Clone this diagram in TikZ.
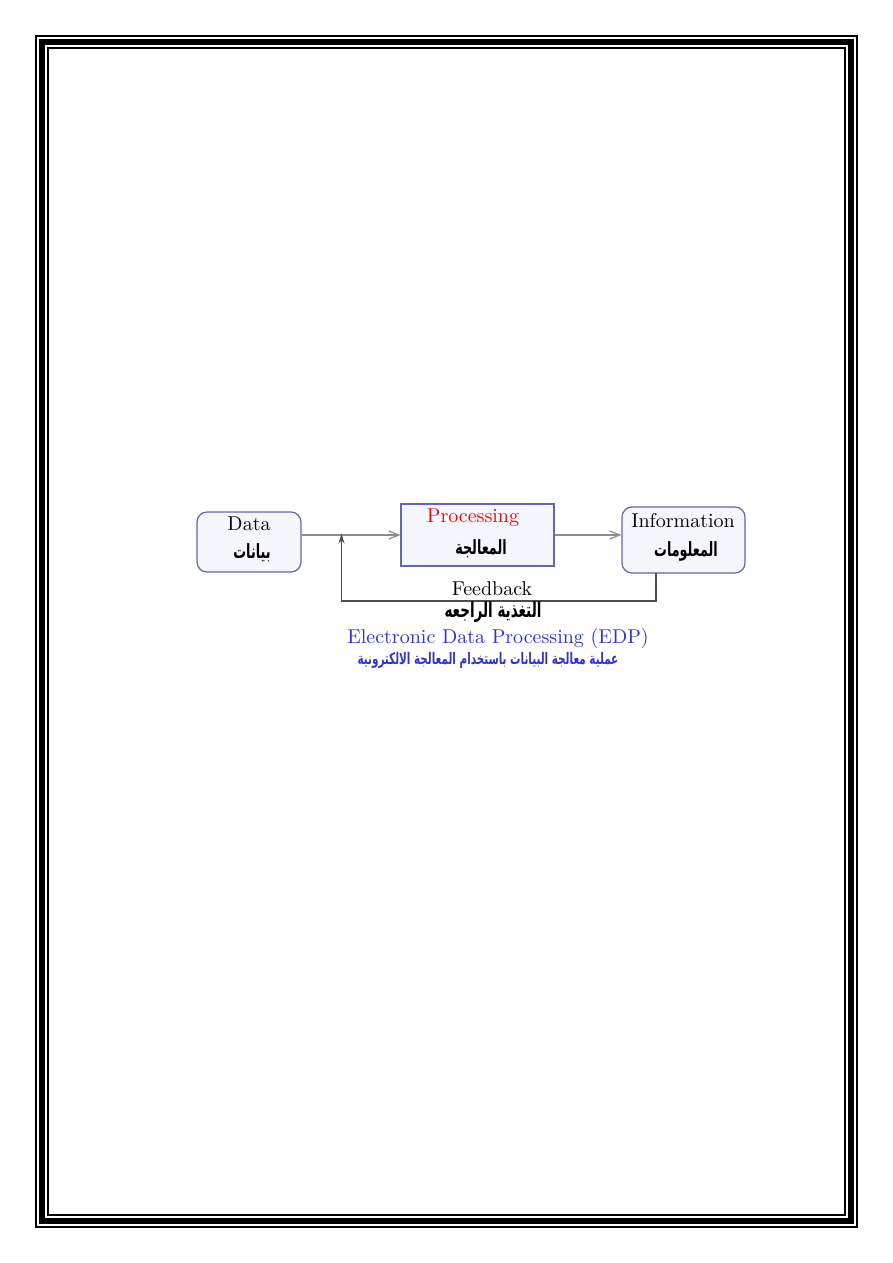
\documentclass[tikz,border=0pt]{standalone}
\usepackage{fontspec}
\newfontfamily\arabicfont[Script=Arabic,FakeStretch=0.65]{DejaVu Sans}
\TeXXeTstate=1
\usetikzlibrary{arrows.meta}
\definecolor{boxline}{RGB}{100,100,180}
\definecolor{boxfill}{RGB}{246,246,255}
\definecolor{flowgray}{RGB}{140,140,140}
\definecolor{edpblue}{RGB}{50,50,210}
\newcommand{\ar}[1]{{\arabicfont\bfseries\beginR #1\endR}}
\begin{document}
\begin{tikzpicture}[
        x={(0.5pt,0pt)},
        y={(0pt,-0.5pt)},
        stagebox/.style={draw=boxline, fill=boxfill, line width=0.6pt, align=center,
            inner sep=0pt, font=\normalsize},
        roundbox/.style={stagebox, rounded corners=5pt},
        artxt/.style={font=\fontsize{9.8}{11}\selectfont},
        flow/.style={draw=flowgray, line width=0.6pt, -{Straight Barb[length=5pt,width=4pt]}},
        fbline/.style={draw=black!70, line width=0.8pt, -{Stealth[length=5pt,width=3pt]}}
    ]
    \useasboundingbox (0,0) rectangle (893,1263);

    % page frame
    \draw[line width=0.75pt] (36,36) rectangle (857,1227);
    \draw[line width=3pt] (42,42) rectangle (851,1221);
    \draw[line width=0.75pt] (48,48) rectangle (845,1215);

    % stages
    \node[roundbox, minimum width=52pt, minimum height=30pt] (data) at (249,542) {};
    \node[stagebox, minimum width=76.5pt, minimum height=31pt] (proc) at (477.5,535) {};
    \node[roundbox, minimum width=61.5pt, minimum height=33pt] (info) at (683.5,540) {};

    \node (datatxt) at (249,524) {Data};
    \node[artxt] (dataar) at (252,553) {\ar{بيانات}};
    \node[text=red] (proctxt) at (473,518) {Processing};
    \node[artxt] (procar) at (481,549) {\ar{المعالجة}};
    \node (infotxt) at (683,521) {Information};
    \node[artxt] (infoar) at (686,551) {\ar{المعلومات}};

    % flow
    \draw[flow] (data.east |- proc.west) -- (proc.west);
    \draw[flow] (proc.east) -- (proc.east -| info.west);

    % feedback loop
    \coordinate (fbstart) at (656,573);
    \coordinate (fbcorner) at (341.5,601);
    \coordinate (fbend) at (341.5,533.5);
    \draw[fbline] (fbstart) |- (fbcorner) -- (fbend);
    \node (fbtxt) at (492,589) {Feedback};
    \node[font=\fontsize{10.4}{12}\selectfont] (fbar) at (493,612) {\ar{التغذية الراجعه}};

    % caption
    \node[text=edpblue] (edp) at (498,638) {Electronic Data Processing (EDP)};
    \node[text=edpblue, font=\fontsize{8}{9}\selectfont] (edpar) at (488,660)
        {\ar{عملية معالجة البيانات باستخدام المعالجة الالكترونية}};
\end{tikzpicture}
\end{document}
